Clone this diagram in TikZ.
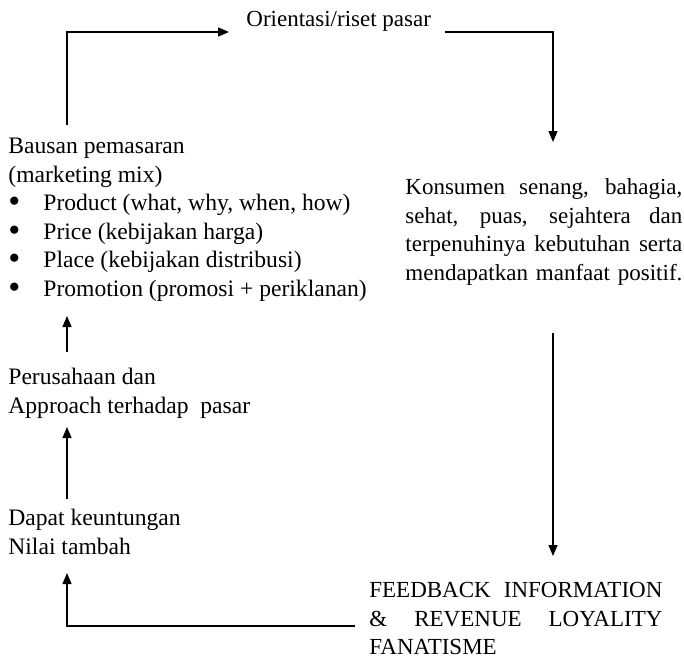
\documentclass[tikz,border=0pt]{standalone}
\usepackage{fontspec}
\setmainfont{Liberation Serif}
\usetikzlibrary{arrows.meta}

\newcommand{\mixitem}[1]{\makebox[17.5pt][l]{\raisebox{-0.9pt}{\scalebox{1.45}{\textbullet}}}#1}
\newcommand{\justline}[2]{\makebox[#1][s]{#2}}

\begin{document}
\begin{tikzpicture}[
    x=0.5pt, y=-0.5pt,
    every node/.style={font=\fontsize{11.5}{14.3}\selectfont, inner sep=0pt},
    textblock/.style={anchor=north west, align=left},
    leftblock/.style={textblock, font=\fontsize{11.8}{14.3}\selectfont},
    link/.style={line width=0.65pt},
    arrow/.style={link, -{Triangle[length=5.5pt, width=4.5pt]}},
]
\useasboundingbox (0,0) rectangle (684,659);

% Title
\node[anchor=base west] (orient) at (246,26) {Orientasi/riset pasar};

% Left column
\node[leftblock] (mix) at (8,133) {%
    \strut Bausan pemasaran\\
    (marketing mix)\\
    \mixitem{Product (what, why, when, how)}\\
    \mixitem{Price (kebijakan harga)}\\
    \mixitem{Place (kebijakan distribusi)}\\
    \mixitem{Promotion (promosi + periklanan)}};
\node[leftblock] (perus) at (8,364) {%
    \strut Perusahaan dan\\
    Approach terhadap\ \ pasar};
\node[leftblock] (dapat) at (8,505) {%
    \strut Dapat keuntungan\\
    Nilai tambah};

% Right column
\node[textblock] (konsumen) at (405,174) {%
    \strut\justline{138.5pt}{Konsumen senang, bahagia,}\\
    \justline{138.5pt}{sehat, puas, sejahtera dan}\\
    \justline{138.5pt}{terpenuhinya kebutuhan serta}\\
    \justline{138.5pt}{mendapatkan manfaat positif.}};
\node[textblock] (feedback) at (369,577) {%
    \strut\justline{146.5pt}{FEEDBACK INFORMATION}\\
    \justline{146.5pt}{\& REVENUE LOYALITY}\\
    FANATISME};

% Cycle arrows
\draw[arrow] ([shift={(59,-8)}]mix.north west) |- ([shift={(-17,6)}]orient.base west);
\draw[arrow] ([shift={(14,6)}]orient.base east) -| ([shift={(148,-32)}]konsumen.north west);
\draw[arrow] ([shift={(148,159)}]konsumen.north west) -- ([shift={(184,-21)}]feedback.north west);
\draw[arrow] ([shift={(-14,49)}]feedback.north west) -| ([shift={(59,68)}]dapat.north west);
\draw[arrow] ([shift={(59,-6)}]dapat.north west) -- ([shift={(59,63)}]perus.north west);
\draw[arrow] ([shift={(59,-12)}]perus.north west) -- ([shift={(59,183)}]mix.north west);

\end{tikzpicture}
\end{document}
